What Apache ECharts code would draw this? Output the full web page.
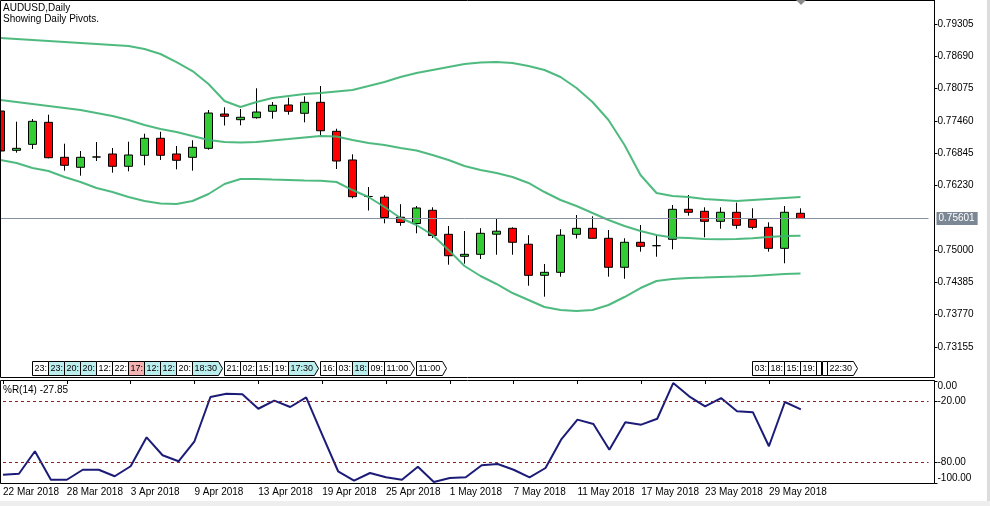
<!DOCTYPE html>
<html><head><meta charset="utf-8">
<script src="https://cdn.jsdelivr.net/npm/echarts@6/dist/echarts.min.js"></script>
<style>html,body{margin:0;padding:0;background:#fff;overflow:hidden}#c{width:990px;height:506px}</style>
</head><body><div id="c"></div>
<script>
// ---------- data ----------
const categories = ['22 Mar 2018','23 Mar 2018','26 Mar 2018','27 Mar 2018','28 Mar 2018','29 Mar 2018','30 Mar 2018',
 '2 Apr 2018','3 Apr 2018','4 Apr 2018','5 Apr 2018','6 Apr 2018','9 Apr 2018','10 Apr 2018','11 Apr 2018','12 Apr 2018',
 '13 Apr 2018','16 Apr 2018','17 Apr 2018','18 Apr 2018','19 Apr 2018','20 Apr 2018','23 Apr 2018','24 Apr 2018',
 '25 Apr 2018','26 Apr 2018','27 Apr 2018','30 Apr 2018','1 May 2018','2 May 2018','3 May 2018','4 May 2018',
 '7 May 2018','8 May 2018','9 May 2018','10 May 2018','11 May 2018','14 May 2018','15 May 2018','16 May 2018',
 '17 May 2018','18 May 2018','21 May 2018','22 May 2018','23 May 2018','24 May 2018','25 May 2018','28 May 2018',
 '29 May 2018','30 May 2018','31 May 2018'];

const openP  = [0.77648,0.76900,0.77014,0.77433,0.76767,0.76577,0.76773,0.76830,0.76596,0.76805,0.77129,0.76830,0.76767,
 0.76938,0.77591,0.77483,0.77521,0.77643,0.77763,0.77605,0.77814,0.77262,0.76716,0.76021,0.76007,0.75626,0.75506,
 0.75758,0.75301,0.74882,0.74920,0.75303,0.75415,0.75112,0.74520,0.74577,0.75301,0.75415,0.75225,0.74673,0.75149,
 0.75084,0.75206,0.75777,0.75739,0.75548,0.75720,0.75586,0.75434,0.75034,0.75701];
const highP  = [0.77706,0.77445,0.77496,0.77578,0.77026,0.76887,0.77058,0.76944,0.77064,0.77216,0.77254,0.76982,0.77091,
 0.77668,0.77719,0.77687,0.78081,0.77820,0.77902,0.77928,0.78124,0.77311,0.76824,0.76201,0.76045,0.75874,0.75840,
 0.75815,0.75459,0.75364,0.75417,0.75605,0.75434,0.75284,0.74735,0.75398,0.75668,0.75644,0.75383,0.75225,0.75478,
 0.75288,0.75859,0.76049,0.75815,0.75815,0.75903,0.75796,0.75529,0.75840,0.75796];
const lowP   = [0.76868,0.76855,0.76925,0.76748,0.76512,0.76417,0.76696,0.76474,0.76500,0.76615,0.76716,0.76538,0.76512,
 0.76912,0.77372,0.77376,0.77502,0.77502,0.77578,0.77433,0.77178,0.76544,0.75986,0.75754,0.75510,0.75463,0.75320,
 0.75230,0.74722,0.74741,0.74831,0.74912,0.74912,0.74322,0.74113,0.74494,0.75221,0.75220,0.74494,0.74455,0.74970,
 0.74874,0.75015,0.75655,0.75244,0.75407,0.75407,0.75396,0.74970,0.74749,0.75601];
const closeP = [0.76887,0.76938,0.77452,0.76759,0.76615,0.76767,0.76773,0.76596,0.76811,0.77129,0.76805,0.76710,0.76957,
 0.77610,0.77548,0.77529,0.77629,0.77757,0.77643,0.77814,0.77273,0.76696,0.76017,0.76021,0.75621,0.75526,0.75802,
 0.75278,0.74893,0.74920,0.75320,0.75360,0.75149,0.74520,0.74577,0.75284,0.75415,0.75225,0.74673,0.75149,0.75072,
 0.75084,0.75777,0.75720,0.75548,0.75720,0.75472,0.75434,0.75034,0.75720,0.75601];

const bbUpper  = [0.79038,0.79019,0.79000,0.78981,0.78962,0.78943,0.78924,0.78905,0.78886,0.78829,0.78734,0.78581,0.78410,
 0.78163,0.77839,0.77725,0.77820,0.77896,0.77934,0.77972,0.77991,0.78020,0.78048,0.78124,0.78201,0.78296,0.78372,
 0.78429,0.78486,0.78543,0.78572,0.78581,0.78562,0.78505,0.78429,0.78296,0.78086,0.77820,0.77477,0.77001,0.76430,
 0.76087,0.76030,0.76011,0.75973,0.75954,0.75935,0.75954,0.75973,0.75992,0.76011];
const bbMiddle = [0.77858,0.77820,0.77782,0.77744,0.77706,0.77668,0.77610,0.77553,0.77477,0.77382,0.77306,0.77249,0.77172,
 0.77096,0.77058,0.77049,0.77058,0.77087,0.77115,0.77144,0.77172,0.77163,0.77096,0.77039,0.77001,0.76944,0.76896,
 0.76811,0.76716,0.76601,0.76525,0.76468,0.76392,0.76278,0.76106,0.75954,0.75840,0.75706,0.75573,0.75459,0.75364,
 0.75288,0.75240,0.75230,0.75211,0.75206,0.75211,0.75225,0.75249,0.75268,0.75274];
const bbLower  = [0.76716,0.76658,0.76563,0.76506,0.76392,0.76297,0.76182,0.76106,0.76011,0.75935,0.75887,0.75878,0.75935,
 0.76068,0.76259,0.76354,0.76354,0.76344,0.76335,0.76325,0.76321,0.76297,0.76144,0.76011,0.75821,0.75611,0.75478,
 0.75288,0.75002,0.74697,0.74507,0.74355,0.74183,0.74050,0.73917,0.73860,0.73840,0.73860,0.73955,0.74107,0.74278,
 0.74412,0.74450,0.74469,0.74478,0.74488,0.74497,0.74507,0.74526,0.74545,0.74554];

const wpr = [-91.9,-90.9,-68.9,-96.8,-96.8,-87.0,-87.0,-93.4,-83.6,-55.2,-72.8,-78.7,-59.1,-15.7,-12.5,-13.0,-27.2,
 -19.3,-25.5,-16.0,-52.6,-88.5,-97.7,-90.2,-94.4,-96.8,-84.0,-99.0,-95.1,-94.4,-82.6,-81.4,-87.0,-94.4,-85.3,-56.9,
 -37.9,-42.2,-67.4,-40.5,-42.8,-37.0,-2.0,-15.0,-24.8,-16.7,-29.7,-30.7,-64.0,-20.6,-27.85];

const priceTicks = [0.73155,0.73770,0.74385,0.75000,0.76230,0.76845,0.77460,0.78075,0.78690,0.79305];
const wprTicks = [-100,-80,-20,0];
const wprLevels = [-20,-80];

const eventBar  = [2,3,4,5,6,7,8,9,10,11,12,14,15,16,17,18,20,21,22,23,24,26,47,48,49,50,51,51.35,51.66];
const eventText = ['23:','23:','20:','20:','12:','22:','17:','12:','12:','20:','18:30','21:','02:','15:','19:','17:30',
 '16:','03:','18:','09:','11:00','11:00','03:','18:','15:','19:','','','22:30'];
const eventFill = ['w','c','c','c','w','w','p','c','c','w','c','w','w','w','w','c','w','w','c','w','w','w','w','w','w','w','w','w','w'];

// ---------- chart ----------
const FONT = 'Liberation Sans';
const PAD_SLOTS = 8;
const axisData = categories.concat(new Array(PAD_SLOTS).fill(''));
const candleData = categories.map((_, i) => [openP[i], closeP[i], lowP[i], highP[i]]);
const lastClose = closeP[closeP.length - 1];
const fillColors = { w: '#ffffff', c: '#bdeeee', p: '#f4b2b2' };
const labelEvery = (idx) => idx % 4 === 0 && idx < categories.length;

const chart = echarts.init(document.getElementById('c'), null, { renderer: 'canvas' });

const option = {
  animation: false,
  backgroundColor: '#ffffff',
  textStyle: { fontFamily: FONT },
  grid: [
    { left: 0.5, top: 0, width: 928, height: 377 },
    { left: 0.5, top: 381, width: 928, height: 102 }
  ],
  xAxis: [
    { type: 'category', gridIndex: 0, data: axisData, boundaryGap: false, show: false },
    { type: 'category', gridIndex: 1, data: axisData, boundaryGap: false,
      axisLine: { show: false },
      axisTick: { show: true, interval: labelEvery, length: 3, lineStyle: { color: '#000' } },
      axisLabel: { interval: labelEvery, align: 'left', margin: 4, fontSize: 10, color: '#000', fontFamily: FONT },
      splitLine: { show: false } }
  ],
  yAxis: [
    { type: 'value', gridIndex: 0, position: 'right', offset: 6, min: 0.72584, max: 0.79762, scale: true,
      axisLine: { show: true, lineStyle: { color: '#000' } },
      axisTick: { show: true, length: 3, customValues: priceTicks, lineStyle: { color: '#000' } },
      axisLabel: { customValues: priceTicks, formatter: v => v.toFixed(5), margin: 3, fontSize: 10, color: '#000', fontFamily: FONT },
      splitLine: { show: false } },
    { type: 'value', gridIndex: 1, position: 'right', offset: 6, min: -100, max: 0,
      axisLine: { show: true, lineStyle: { color: '#000' } },
      axisTick: { show: true, length: 3, customValues: wprTicks, lineStyle: { color: '#000' } },
      axisLabel: { customValues: wprTicks, formatter: v => v.toFixed(2), margin: 3, fontSize: 10, color: '#000', fontFamily: FONT,
        verticalAlignMinLabel: 'bottom', verticalAlignMaxLabel: 'top' },
      splitLine: { show: false } }
  ],
  series: [
    { type: 'candlestick', xAxisIndex: 0, yAxisIndex: 0, data: candleData, barWidth: 9, z: 3,
      itemStyle: { color: '#32cd32', color0: '#ff0000', borderColor: '#000', borderColor0: '#000', borderColorDoji: '#000', borderWidth: 1 },
      markLine: { silent: true, symbol: ['none', 'none'], animation: false, precision: 5,
        lineStyle: { color: '#8792a0', width: 1, type: 'solid' },
        label: { position: 'end', distance: 8, formatter: p => Number(p.value).toFixed(5), color: '#fff', backgroundColor: '#7b8794',
          padding: [2, 3, 1, 2], fontSize: 10, fontFamily: FONT },
        data: [{ yAxis: lastClose }] } },
    { type: 'line', xAxisIndex: 0, yAxisIndex: 0, data: bbUpper, symbol: 'none', z: 4,
      lineStyle: { color: '#3cb371', width: 2, opacity: 0.9 } },
    { type: 'line', xAxisIndex: 0, yAxisIndex: 0, data: bbMiddle, symbol: 'none', z: 4,
      lineStyle: { color: '#3cb371', width: 2, opacity: 0.9 } },
    { type: 'line', xAxisIndex: 0, yAxisIndex: 0, data: bbLower, symbol: 'none', z: 4,
      lineStyle: { color: '#3cb371', width: 2, opacity: 0.9 } },
    { type: 'custom', xAxisIndex: 0, yAxisIndex: 0, z: 6, silent: true,
      data: eventBar.map((b, i) => [Math.floor(b), i]),
      renderItem: function (params, api) {
        const i = api.value(1);
        const b = eventBar[i];
        const band = api.size([1, 0])[0];
        const x0 = Math.floor(api.coord([Math.floor(b), 0.75])[0] + (b - Math.floor(b)) * band) + 0.5;
        const cs = params.coordSys;
        const yb = cs.y + cs.height - 1.5;
        const yt = yb - 14;
        const txt = eventText[i];
        const longBox = txt.length > 3;
        const w = txt.length === 0 ? 5 : (longBox ? 26 : 16);
        const pts = longBox
          ? [[x0, yt], [x0 + w, yt], [x0 + w + 4, (yt + yb) / 2], [x0 + w, yb], [x0, yb]]
          : [[x0, yt], [x0 + w, yt], [x0 + w, yb], [x0, yb]];
        return {
          type: 'group',
          children: [
            { type: 'polygon', shape: { points: pts }, style: { fill: fillColors[eventFill[i]], stroke: '#000', lineWidth: 1 } },
            { type: 'text', x: x0 + 2, y: yt + 2.5, style: { text: txt, fill: '#000', font: '9px "Liberation Sans"' } }
          ]
        };
      } },
    { type: 'line', xAxisIndex: 1, yAxisIndex: 1, data: wpr, symbol: 'none', z: 4,
      lineStyle: { color: '#1c1c78', width: 2 },
      markLine: { silent: true, symbol: ['none', 'none'], animation: false, label: { show: false },
        lineStyle: { color: '#8b2020', width: 1, type: [3, 3] },
        data: wprLevels.map(v => ({ yAxis: v })) } }
  ],
  graphic: [
    { type: 'rect', silent: true, z: 100, shape: { x: 0.5, y: 0.5, width: 934, height: 377 }, style: { fill: 'none', stroke: '#000', lineWidth: 1 } },
    { type: 'rect', silent: true, z: 100, shape: { x: 0.5, y: 380.5, width: 934, height: 103 }, style: { fill: 'none', stroke: '#000', lineWidth: 1 } },
    { type: 'rect', silent: true, z: 100, shape: { x: 987, y: 0, width: 3, height: 506 }, style: { fill: '#dcdcdc' } },
    { type: 'rect', silent: true, z: 100, shape: { x: 0, y: 501, width: 990, height: 5 }, style: { fill: '#eeeeee' } },
    { type: 'polygon', silent: true, z: 100, shape: { points: [[796, 0], [806, 0], [801, 5]] }, style: { fill: '#8a8a8a' } },
    { type: 'text', silent: true, z: 100, x: 3, y: 3, style: { text: 'AUDUSD,Daily', fill: '#000', font: '10px "Liberation Sans"' } },
    { type: 'text', silent: true, z: 100, x: 3, y: 14, style: { text: 'Showing Daily Pivots.', fill: '#000', font: '10px "Liberation Sans"' } },
    { type: 'text', silent: true, z: 100, x: 3, y: 385, style: { text: '%R(14) ' + wpr[wpr.length - 1].toFixed(2), fill: '#000', font: '10px "Liberation Sans"' } }
  ]
};
chart.setOption(option);
</script>
</body></html>
